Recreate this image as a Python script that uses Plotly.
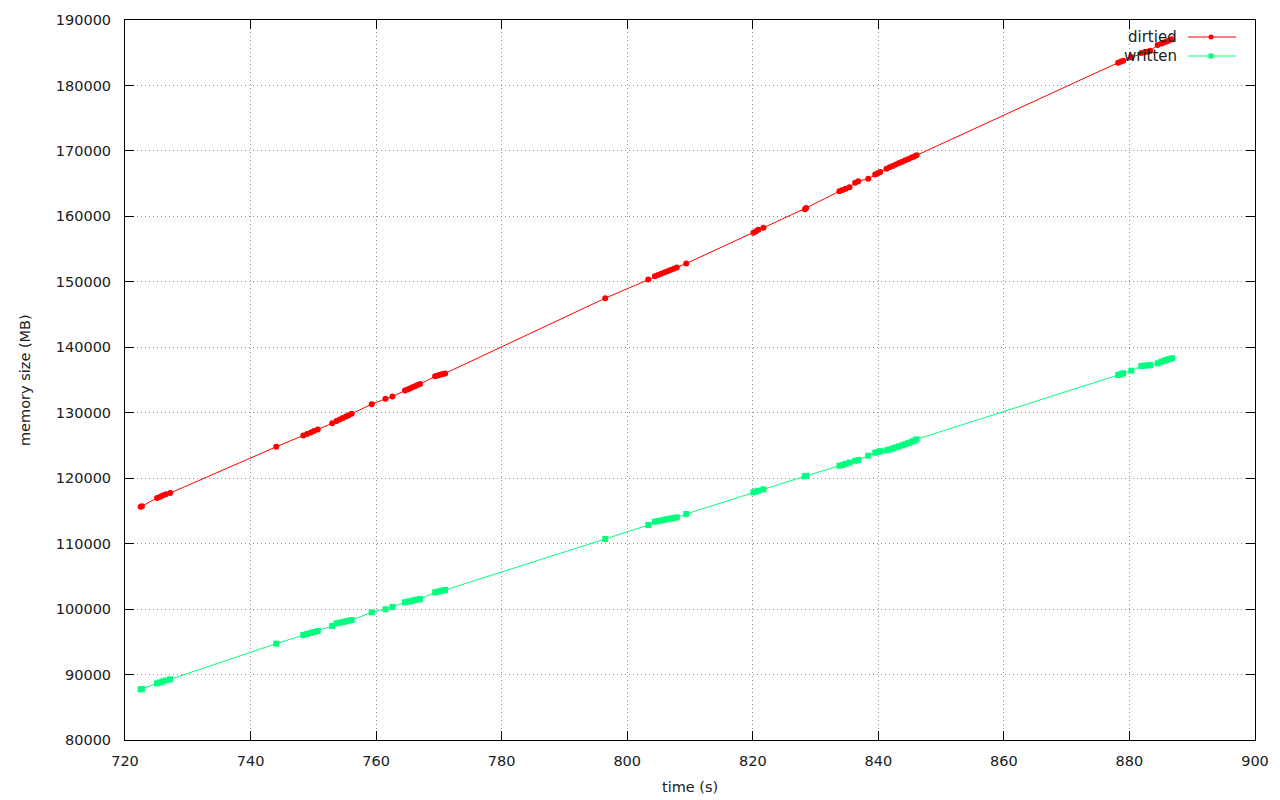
import plotly.graph_objects as go

# time (s)
time_s = [722.5, 722.7, 725.1, 725.6, 726.0, 726.5, 727.2, 744.1, 748.4, 749.0,
          749.6, 750.1, 750.7, 753.0, 753.7, 754.2, 754.7, 755.2, 755.6, 756.1,
          759.3, 761.5, 762.6, 764.6, 765.0, 765.4, 765.8, 766.2, 766.6, 767.0,
          769.4, 769.8, 770.2, 770.6, 771.0, 796.5, 803.35, 804.4, 804.9, 805.4,
          805.9, 806.4, 806.9, 807.4, 807.9, 809.4, 820.1, 820.5, 820.9, 821.7,
          828.3, 828.5, 833.8, 834.3, 834.8, 835.4, 836.3, 836.8, 838.4, 839.5,
          839.9, 840.3, 841.3, 841.8, 842.3, 842.8, 843.3, 843.8, 844.3, 844.8,
          845.3, 845.7, 846.1, 878.2, 878.6, 879.0, 880.3, 881.9, 882.4, 882.9,
          883.3, 884.5, 885.1, 885.5, 885.9, 886.3, 886.8]

# memory size (MB)
dirtied = [115650, 115720, 116990, 117170, 117350, 117530, 117730, 124800, 126510, 126750,
           126980, 127200, 127420, 128380, 128740, 128970, 129200, 129420, 129630, 129850,
           131310, 132120, 132470, 133380, 133550, 133720, 133890, 134060, 134230, 134390,
           135560, 135670, 135790, 135900, 136010, 147500, 150350, 150850, 151040, 151230,
           151420, 151620, 151810, 152000, 152200, 152800, 157500, 157720, 157950, 158250,
           161100, 161280, 163850, 164030, 164210, 164460, 165130, 165380, 165740, 166410,
           166590, 166770, 167280, 167490, 167710, 167920, 168140, 168350, 168560, 168780,
           169000, 169160, 169330, 183480, 183630, 183780, 184320, 184950, 185060, 185160,
           185300, 186180, 186400, 186560, 186720, 186880, 187050]

written = [87750, 87800, 88660, 88800, 88950, 89100, 89270, 94720, 96040, 96200,
           96360, 96500, 96650, 97410, 97830, 97930, 98030, 98130, 98230, 98330,
           99500, 99970, 100320, 101040, 101120, 101200, 101290, 101370, 101450, 101540,
           102560, 102650, 102740, 102830, 102920, 110710, 112850, 113350, 113450, 113540,
           113640, 113730, 113830, 113920, 114020, 114530, 117840, 117970, 118090, 118300,
           120300, 120360, 121900, 122010, 122190, 122380, 122650, 122790, 123430, 123890,
           124010, 124130, 124260, 124400, 124550, 124700, 124860, 125020, 125190, 125370,
           125560, 125740, 125940, 135760, 135890, 136020, 136420, 137140, 137190, 137240,
           137290, 137550, 137800, 137930, 138060, 138190, 138320]

series_names = ["dirtied", "written"]
x_ticks = [720, 740, 760, 780, 800, 820, 840, 860, 880, 900]
y_ticks = [80000, 90000, 100000, 110000, 120000, 130000, 140000, 150000, 160000,
           170000, 180000, 190000]

RED = "#ff0000"
GREEN = "#00ff7f"
FONT = "DejaVu Sans"

fig = go.Figure()
fig.add_trace(go.Scatter(x=time_s, y=dirtied, name=series_names[0], mode="lines+markers",
                         line=dict(color=RED, width=1),
                         marker=dict(symbol="circle", size=6, color=RED, line=dict(width=0))))
fig.add_trace(go.Scatter(x=time_s, y=written, name=series_names[1], mode="lines+markers",
                         line=dict(color=GREEN, width=1),
                         marker=dict(symbol="square", size=6, color=GREEN, line=dict(width=0))))

axis_common = dict(showline=True, linecolor="black", linewidth=1, mirror="ticks",
                   ticks="inside", ticklen=9, tickwidth=1, tickcolor="black",
                   showgrid=True, gridcolor="#909090", griddash="1px,3px", gridwidth=1,
                   zeroline=False, tickfont=dict(family=FONT, size=14.5, color="#202020"))

fig.update_xaxes(range=[720, 900], tickvals=x_ticks, ticklabelstandoff=8, **axis_common)
fig.update_yaxes(range=[80000, 190000], tickvals=y_ticks,
                 ticktext=[str(v) for v in y_ticks], ticklabelstandoff=10, **axis_common)

# custom gnuplot-style legend (text left of sample)
legend_rows = [(0.9764, RED, "circle"), (0.95, GREEN, "square")]
shapes = []
annotations = []
for name, (yp, col, sym) in zip(series_names, legend_rows):
    annotations.append(dict(xref="paper", yref="paper", x=0.9325, y=yp, text=name,
                            showarrow=False, xanchor="right", yanchor="middle",
                            font=dict(family=FONT, size=15, color="#202020")))
    shapes.append(dict(type="line", xref="paper", yref="paper", x0=0.9407, x1=0.9832,
                       y0=yp, y1=yp, line=dict(color=col, width=1)))
    shapes.append(dict(type="circle" if sym == "circle" else "rect",
                       xref="paper", yref="paper", xsizemode="pixel", ysizemode="pixel",
                       xanchor=0.9611, yanchor=yp, x0=-2.5, x1=2.5, y0=-2.5, y1=2.5,
                       fillcolor=col, line=dict(color=col, width=0)))

annotations.append(dict(xref="paper", yref="paper", x=0.5, y=0, yshift=-47, text="time (s)",
                        showarrow=False, xanchor="center", yanchor="middle",
                        font=dict(family=FONT, size=14.5, color="#202020")))
annotations.append(dict(xref="paper", yref="paper", x=0, xshift=-100, y=0.5,
                        text="memory size (MB)", textangle=-90, showarrow=False,
                        xanchor="center", yanchor="middle",
                        font=dict(family=FONT, size=14.5, color="#202020")))

fig.update_layout(width=1280, height=800, margin=dict(l=125, r=25, t=20, b=60),
                  paper_bgcolor="white", plot_bgcolor="white", showlegend=False,
                  shapes=shapes, annotations=annotations,
                  font=dict(family=FONT, size=14.5, color="#202020"))

# remove the default page margin so the figure sits at the window's top-left corner
fig.write_html("out.html", config={"displayModeBar": False},
               post_script="document.body.style.margin='0';document.body.style.overflow='hidden';")
